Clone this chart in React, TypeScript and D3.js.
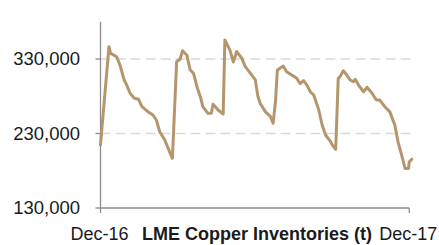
import React from "react";
import * as d3 from "d3";

const W = 439;
const H = 245;

// Days since the Dec-16 axis start, and LME copper inventories (tonnes)
const days: number[] = [
  0, 10, 12, 19, 23, 28, 31, 35, 40, 45, 49, 56, 62, 66, 70, 76, 80, 85,
  90, 94, 97, 102, 106, 110, 114, 118, 121, 127, 131, 133, 139, 145,
  147, 153, 157, 161, 167, 171, 177, 183, 186, 189, 195, 201, 204,
  207, 209, 212, 216, 220, 226, 232, 236, 240, 244, 248, 252, 258, 262, 266, 272, 274, 278,
  281, 283, 287, 291, 295, 299, 301, 305, 311, 315, 321, 326, 330, 336, 342, 348, 352, 356, 360, 364, 365, 368,
];
const inventory: number[] = [
  214600, 346500, 337600, 333100, 322000, 301800, 295000, 284000, 277300, 275900, 266000, 259300, 254800, 248100, 232400, 221300, 210100, 196700,
  326400, 329600, 341100, 335300, 315200, 310800, 292800, 279400, 266000, 257100, 257100, 269200, 261500, 256000,
  355500, 342000, 326000, 340000, 331000, 320000, 311000, 302000, 280000, 270000, 259000, 252600, 243700,
  275000, 315000, 317500, 320600, 313000, 308500, 304000, 297000, 301000, 295000, 286000, 281700, 261500, 241400, 228000, 219000, 214600, 208800,
  304000, 306000, 314300, 308500, 301800, 299500, 302800, 295000, 286000, 292000, 284000, 275000, 275000, 266000, 259000, 241000, 217000, 201000, 183000, 183000, 192000, 195500,
];
const yTicks: number[] = [130000, 230000, 330000];
const gridValues: number[] = [230000, 330000];
const xLabels: string[] = ["Dec-16", "Dec-17"];
const title = "LME Copper Inventories (t)";

const left = 100.5;
const right = 409.3;
const top = 21.75;
const bottom = 208;

export default function App() {
  const x = d3.scaleLinear().domain([0, 365]).range([left, right]);
  const y = d3.scaleLinear().domain([130000, 380000]).range([bottom, top]);
  const pts = days.map((d, i) => [d, inventory[i]] as [number, number]);
  const line = d3
    .line<[number, number]>()
    .x((d) => x(d[0]))
    .y((d) => y(d[1]))
    .curve(d3.curveLinear);
  const font = "'Liberation Sans', Arial, sans-serif";
  const axisColor = "#8c8c8c";
  return (
    <svg
      width={W}
      height={H}
      style={{ position: "fixed", left: 0, top: 0, background: "#fff" }}
      fontFamily={font}
    >
      {gridValues.map((v) => (
        <line
          key={v}
          x1={left}
          x2={411}
          y1={y(v)}
          y2={y(v)}
          stroke="#d9d9d9"
          strokeWidth={1.5}
          strokeDasharray="10,5"
        />
      ))}
      <line x1={left} x2={left} y1={top} y2={bottom} stroke={axisColor} strokeWidth={1.3} />
      <line x1={left} x2={right} y1={bottom} y2={bottom} stroke={axisColor} strokeWidth={1.3} />
      {yTicks.map((v) => (
        <g key={v}>
          <line x1={left - 5} x2={left} y1={y(v)} y2={y(v)} stroke={axisColor} strokeWidth={1.3} />
          <text
            x={80}
            y={y(v)}
            dy="0.35em"
            textAnchor="end"
            fontSize={18.5}
            fill="#1a1a1a"
          >
            {d3.format(",")(v)}
          </text>
        </g>
      ))}
      {[0, 365].map((d, i) => (
        <g key={d}>
          <line x1={x(d)} x2={x(d)} y1={bottom} y2={bottom + 5} stroke={axisColor} strokeWidth={1.3} />
          <text x={x(d) - 1} y={240} textAnchor="middle" fontSize={18} fill="#1a1a1a">
            {xLabels[i]}
          </text>
        </g>
      ))}
      <text x={257} y={240} textAnchor="middle" fontSize={18} fontWeight="bold" fill="#1a1a1a">
        {title}
      </text>
      <path
        d={line(pts) || ""}
        fill="none"
        stroke="#b5966c"
        strokeWidth={3}
        strokeLinejoin="round"
        strokeLinecap="round"
      />
    </svg>
  );
}
